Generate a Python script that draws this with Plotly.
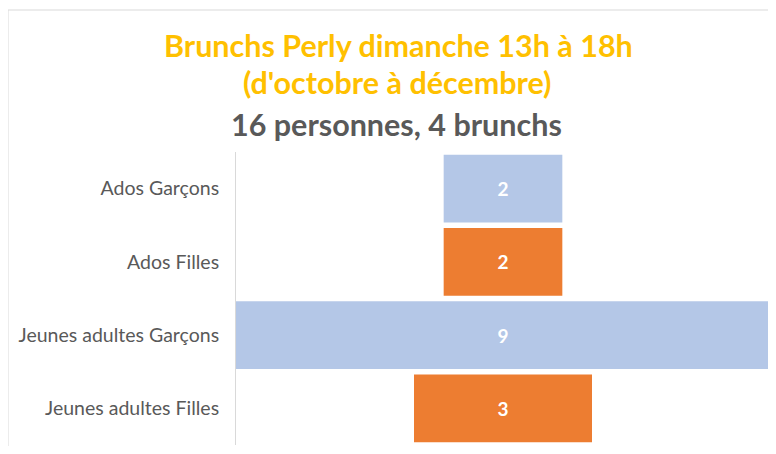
import plotly.graph_objects as go

categories = ["Ados Garçons", "Ados Filles", "Jeunes adultes Garçons", "Jeunes adultes Filles"]
values = [2, 2, 9, 3]
colors = ["#B4C7E7", "#ED7D31", "#B4C7E7", "#ED7D31"]

title_line1 = "Brunchs Perly dimanche 13h à 18h"
title_line2 = "(d'octobre à décembre)"
subtitle = "16 personnes, 4 brunchs"

FONT = "Lato"
OFF = 8  # browser body margin

fig = go.Figure(go.Bar(
    y=categories,
    x=values,
    base=[-v / 2 for v in values],
    orientation="h",
    marker=dict(color=colors, line=dict(width=0)),
    text=[str(v) for v in values],
    textposition="inside",
    insidetextanchor="middle",
    textfont=dict(color="white", size=19, family=FONT, weight="bold"),
    hoverinfo="skip",
))

W, H = 768, 438
# target plot area in screen pixels: x 236..770, y 152..445
ml = 236 - OFF
mt = 152 - OFF
mr = W - (770 - OFF)
mb = H - (445 - OFF)
pw = W - ml - mr
ph = H - mt - mb

def px_x(p):
    return (p - OFF - ml) / pw

def px_y(p):
    return (H - mb - (p - OFF)) / ph

fig.update_layout(
    width=W, height=H,
    margin=dict(l=ml, r=mr, t=mt, b=mb),
    paper_bgcolor="white",
    plot_bgcolor="white",
    bargap=0.075,
    showlegend=False,
    xaxis=dict(range=[-4.5, 4.5], visible=False, fixedrange=True),
    yaxis=dict(
        autorange="reversed",
        showgrid=False,
        showline=True,
        linecolor="#D9D9D9",
        linewidth=1,
        ticks="",
        ticklabelstandoff=12,
        tickfont=dict(family=FONT, size=19.5, color="#595959"),
    ),
    annotations=[
        dict(text=title_line1, x=px_x(398), y=px_y(45), xref="paper", yref="paper",
             showarrow=False, xanchor="center", yanchor="middle",
             font=dict(family=FONT, size=30.5, color="#FFC000", weight="bold")),
        dict(text=title_line2, x=px_x(397), y=px_y(82), xref="paper", yref="paper",
             showarrow=False, xanchor="center", yanchor="middle",
             font=dict(family=FONT, size=30.5, color="#FFC000", weight="bold")),
        dict(text=subtitle, x=px_x(396), y=px_y(124), xref="paper", yref="paper",
             showarrow=False, xanchor="center", yanchor="middle",
             font=dict(family=FONT, size=30.5, color="#595959", weight="bold")),
    ],
    shapes=[
        dict(type="rect", xref="paper", yref="paper",
             x0=px_x(8), x1=px_x(800), y0=px_y(480), y1=px_y(10),
             line=dict(color="#D9D9D9", width=1), fillcolor="rgba(0,0,0,0)", layer="below"),
    ],
)

fig.write_html("out.html")
